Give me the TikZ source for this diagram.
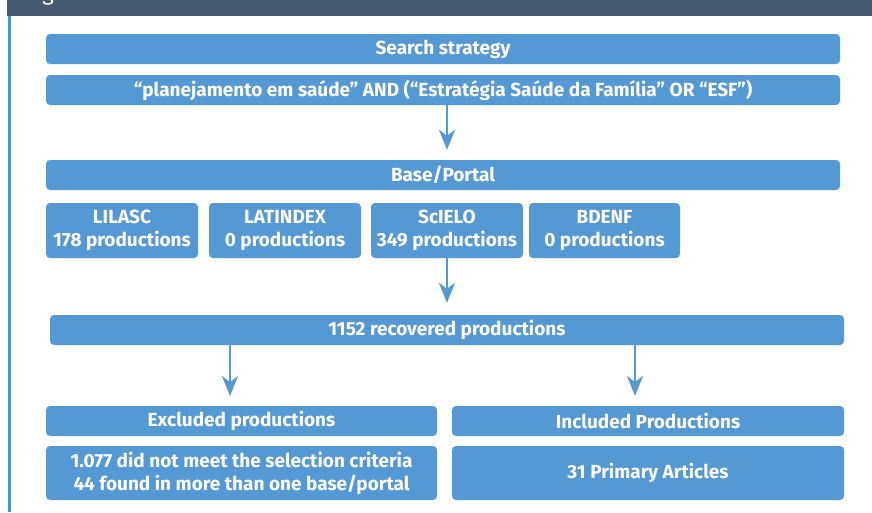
\documentclass[tikz,border=0pt]{standalone}
\usepackage{fontspec}
\setmainfont{Fira Sans}
\usetikzlibrary{arrows.meta}
\definecolor{boxblue}{HTML}{5499D3}
\definecolor{bandgrey}{HTML}{475A70}
\definecolor{ruleblue}{HTML}{3C9BDF}
\tikzset{
  stage/.style={fill=boxblue, rounded corners=4pt, text=white, align=center,
    inner sep=0pt, font=\bfseries\fontsize{19}{23}\selectfont},
  arr/.style={draw=boxblue, line width=2.5pt,
    -{Stealth[length=20pt,width=16pt,inset=6pt]}}
}
\begin{document}
\begin{tikzpicture}[x=1pt,y=-1pt]
  \useasboundingbox (0,0) rectangle (872,512);
  % header band and side rule
  \fill[bandgrey] (7,0) rectangle (872,16);
  \begin{scope}
    \clip (7,0) rectangle (872,16);
    \node[anchor=base, text=white, inner sep=0pt, font=\fontsize{22}{26}\selectfont] (title) at (48,0) {g};
  \end{scope}
  \fill[ruleblue] (8,16) rectangle (11,512);

  \node[stage, minimum width=794pt, minimum height=30pt] (strategy) at (443,49) {Search strategy};
  \node[stage, minimum width=794pt, minimum height=30pt] (query) at (443,90) {“planejamento em saúde” AND (“Estratégia Saúde da Família” OR “ESF”)};
  \node[stage, minimum width=794pt, minimum height=30pt] (base) at (443,175) {Base/Portal};

  \node[stage, minimum width=152pt, minimum height=55pt] (lilasc) at (122,230.5) {LILASC\\178 productions};
  \node[stage, minimum width=152pt, minimum height=55pt] (latindex) at (285,230.5) {LATINDEX\\0 productions};
  \node[stage, minimum width=152pt, minimum height=55pt] (scielo) at (447,230.5) {ScIELO\\349 productions};
  \node[stage, minimum width=151pt, minimum height=55pt] (bdenf) at (604.5,230.5) {BDENF\\0 productions};

  \node[stage, minimum width=794pt, minimum height=30pt] (recovered) at (447,330) {1152 recovered productions};

  \node[stage, minimum width=391pt, minimum height=30pt] (excluded) at (241.5,421) {Excluded productions};
  \node[stage, minimum width=392pt, minimum height=30pt] (included) at (648,421) {Included Productions};
  \node[stage, minimum width=391pt, minimum height=54pt] (criteria) at (241.5,473) {1.077 did not meet the selection criteria\\44 found in more than one base/portal};
  \node[stage, minimum width=392pt, minimum height=54pt] (primary) at (648,473) {31 Primary Articles};

  \coordinate (toexc) at (230,396);
  \coordinate (toinc) at (635,396);

  \draw ([xshift=4pt]query.south) edge[arr] ([xshift=4pt,yshift=10pt]base.north);
  \draw (scielo.south) edge[arr] ([yshift=12pt]recovered.north -| scielo);
  \draw (recovered.south -| toexc) edge[arr] (toexc);
  \draw (recovered.south -| toinc) edge[arr] (toinc);
\end{tikzpicture}
\end{document}
